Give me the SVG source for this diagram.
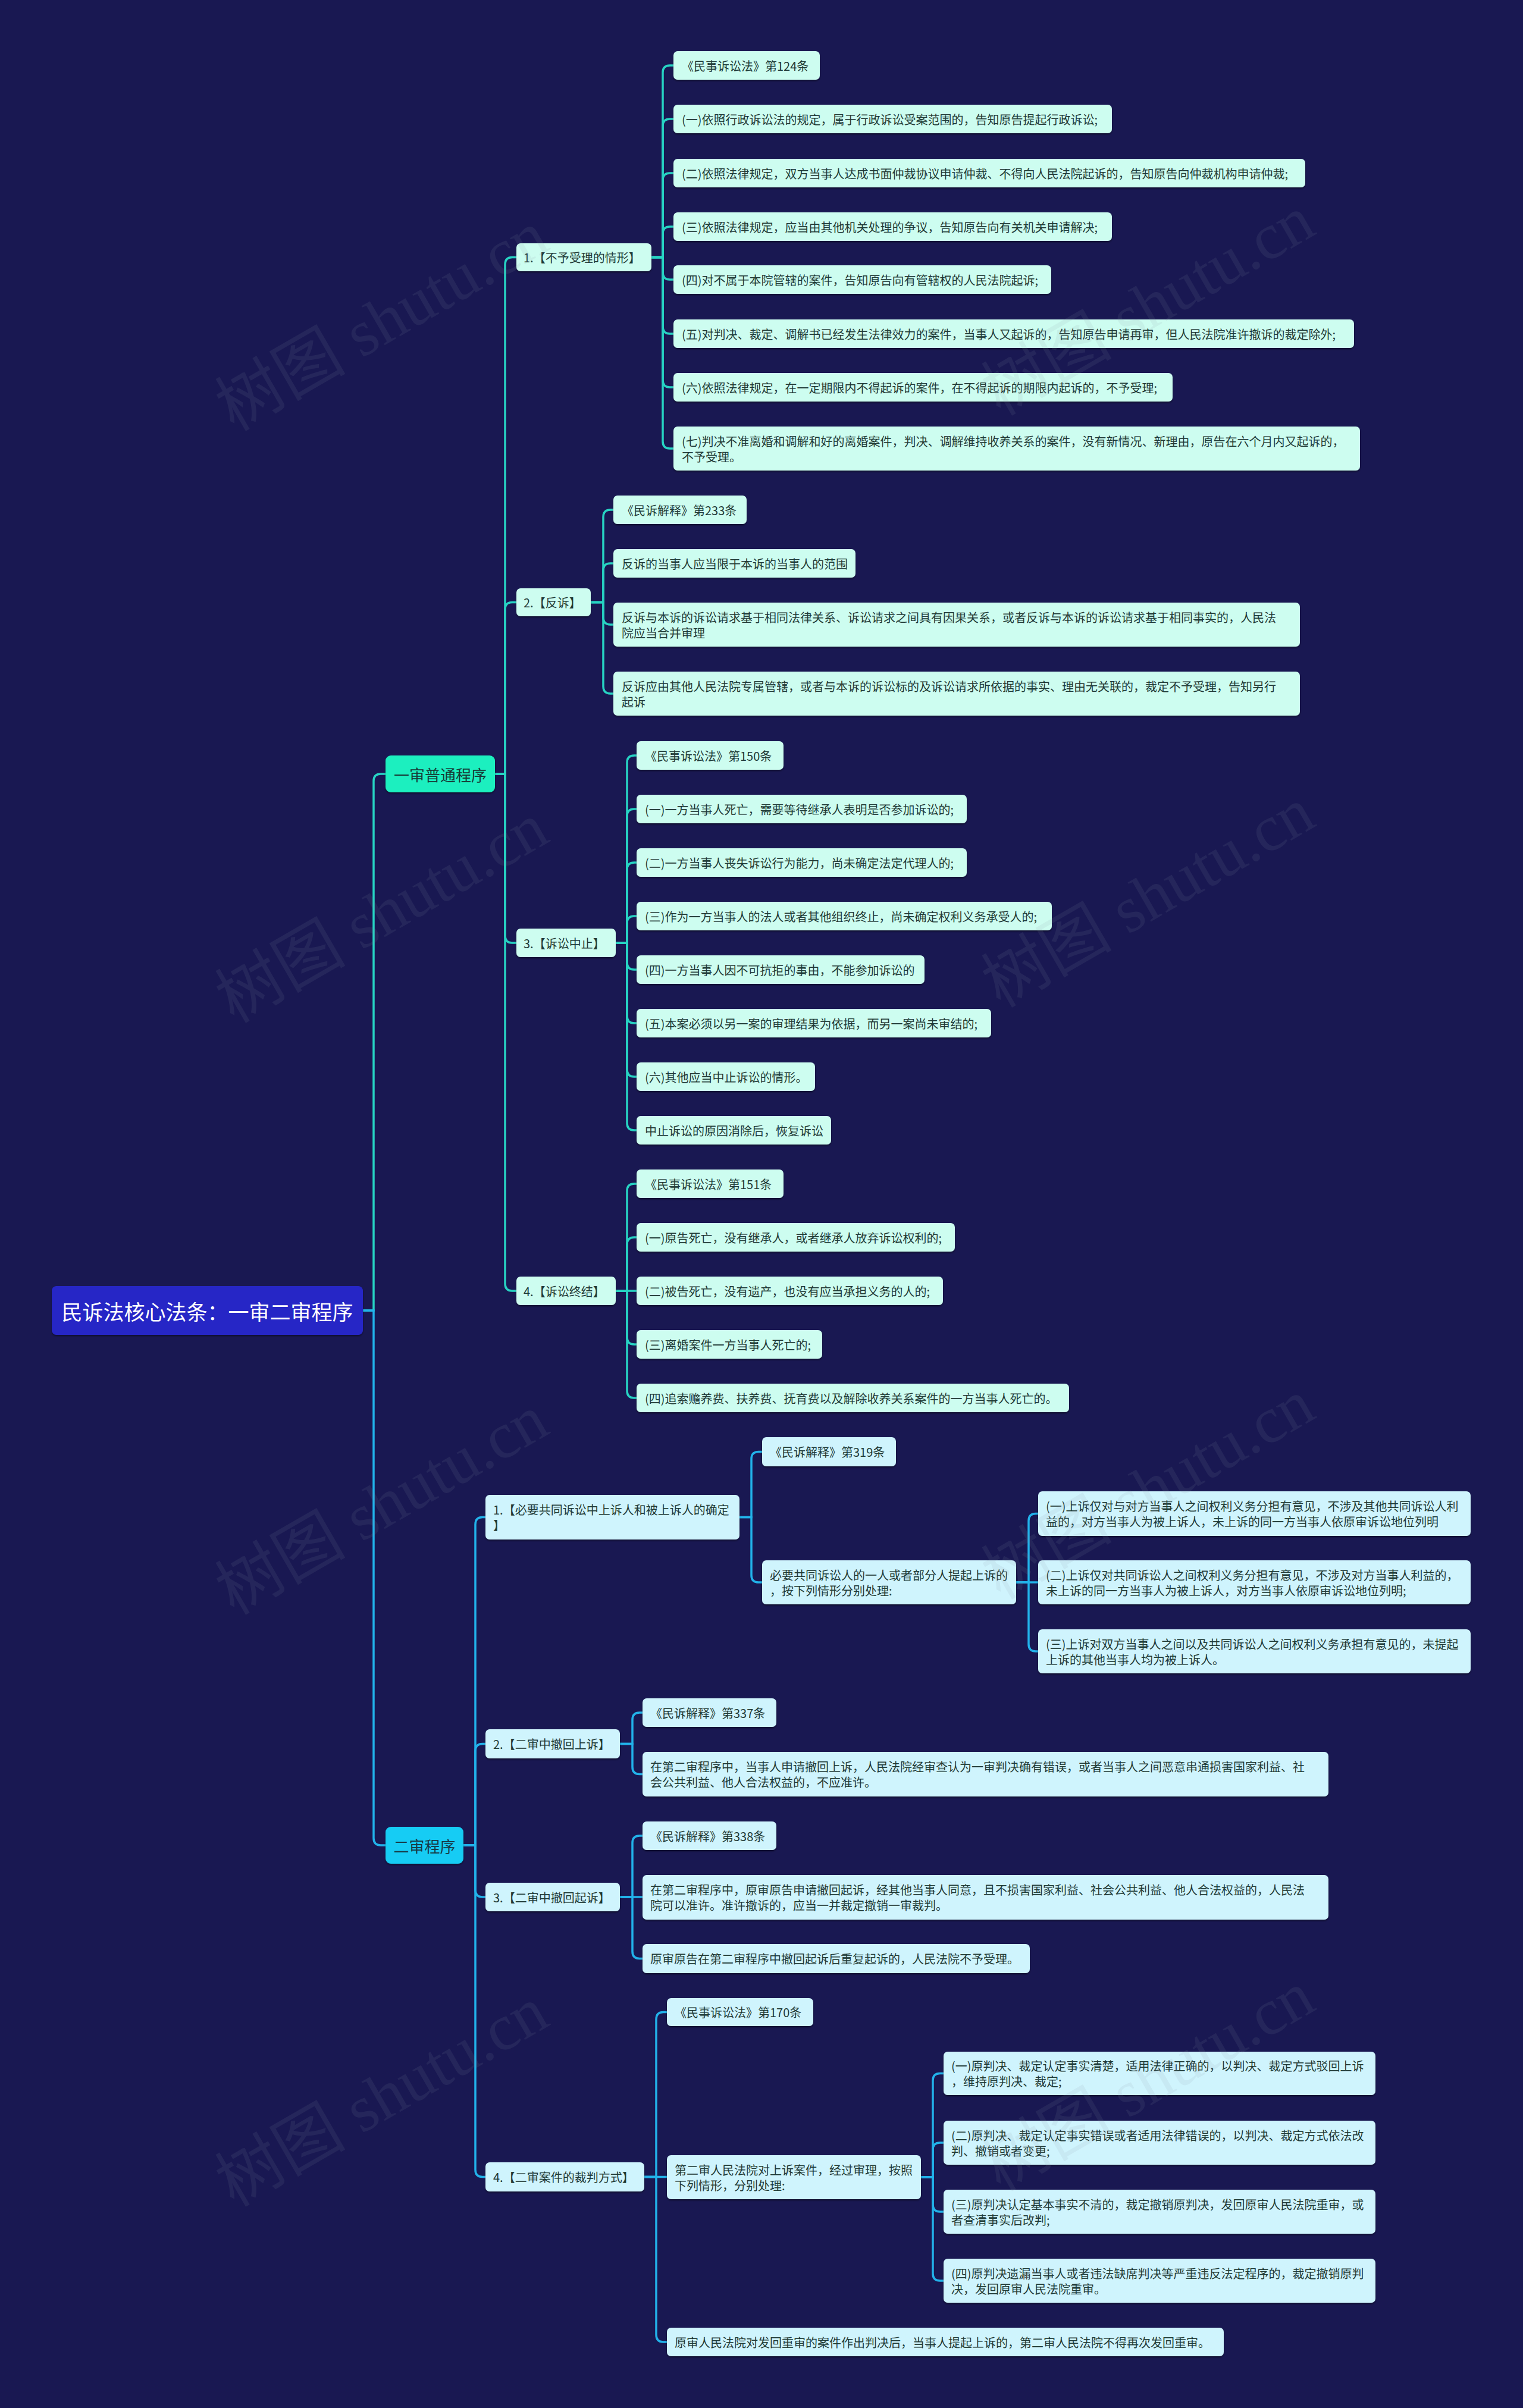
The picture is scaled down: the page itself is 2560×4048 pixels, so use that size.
<svg xmlns="http://www.w3.org/2000/svg" width="2560" height="4048" viewBox="0 0 2560 4048">
<defs>
<filter id="sh" x="-5%" y="-20%" width="110%" height="150%"><feDropShadow dx="0" dy="2" stdDeviation="1.5" flood-color="#000" flood-opacity="0.45"/></filter>
<style>
.l1{fill:none;stroke:#27d3c3;stroke-width:3.5}
.l2{fill:none;stroke:#22b2ea;stroke-width:3.5}
.n1{fill:#cdfdf0;filter:url(#sh)}
.n2{fill:#cff4fd;filter:url(#sh)}
.t{font-family:"Noto Sans CJK SC","Noto Sans",sans-serif;font-size:20px;fill:#1f3a36;dominant-baseline:central}
.wm{font-family:"Liberation Serif","Noto Sans CJK SC",serif;font-size:110px;fill:#8a94a6;opacity:0.11;text-anchor:middle;dominant-baseline:central}
</style>
</defs>
<rect x="0" y="0" width="2560" height="4048" fill="#191852"/>
<g id="connectors">
<path class="l1" d="M610 2203H628V1313Q628 1301 640 1301H648"/>
<path class="l2" d="M610 2203H628V3090Q628 3102 640 3102H648"/>
<path class="l1" d="M832 1301H849V444.5Q849 432.5 861 432.5H868"/>
<path class="l1" d="M832 1301H849V1024.5Q849 1012.5 861 1012.5H868"/>
<path class="l1" d="M832 1301H849V1573Q849 1585 861 1585H868"/>
<path class="l1" d="M832 1301H849V2158Q849 2170 861 2170H868"/>
<path class="l1" d="M1095 432.5H1114V122Q1114 110 1126 110H1132"/>
<path class="l1" d="M1095 432.5H1114V212Q1114 200 1126 200H1132"/>
<path class="l1" d="M1095 432.5H1114V303Q1114 291 1126 291H1132"/>
<path class="l1" d="M1095 432.5H1114V393Q1114 381 1126 381H1132"/>
<path class="l1" d="M1095 432.5H1114V458Q1114 470 1126 470H1132"/>
<path class="l1" d="M1095 432.5H1114V549Q1114 561 1126 561H1132"/>
<path class="l1" d="M1095 432.5H1114V639Q1114 651 1126 651H1132"/>
<path class="l1" d="M1095 432.5H1114V742Q1114 754 1126 754H1132"/>
<path class="l1" d="M993 1012.5H1014V869Q1014 857 1026 857H1031"/>
<path class="l1" d="M993 1012.5H1014V959Q1014 947 1026 947H1031"/>
<path class="l1" d="M993 1012.5H1014V1038Q1014 1050 1026 1050H1031"/>
<path class="l1" d="M993 1012.5H1014V1154Q1014 1166 1026 1166H1031"/>
<path class="l1" d="M1035 1585H1054V1282Q1054 1270 1066 1270H1070"/>
<path class="l1" d="M1035 1585H1054V1372Q1054 1360 1066 1360H1070"/>
<path class="l1" d="M1035 1585H1054V1462Q1054 1450 1066 1450H1070"/>
<path class="l1" d="M1035 1585H1054V1552Q1054 1540 1066 1540H1070"/>
<path class="l1" d="M1035 1585H1054V1618Q1054 1630 1066 1630H1070"/>
<path class="l1" d="M1035 1585H1054V1708Q1054 1720 1066 1720H1070"/>
<path class="l1" d="M1035 1585H1054V1798Q1054 1810 1066 1810H1070"/>
<path class="l1" d="M1035 1585H1054V1888Q1054 1900 1066 1900H1070"/>
<path class="l1" d="M1035 2170H1054V2002Q1054 1990 1066 1990H1070"/>
<path class="l1" d="M1035 2170H1054V2092Q1054 2080 1066 2080H1070"/>
<path class="l1" d="M1035 2170H1070"/>
<path class="l1" d="M1035 2170H1054V2248Q1054 2260 1066 2260H1070"/>
<path class="l1" d="M1035 2170H1054V2338Q1054 2350 1066 2350H1070"/>
<path class="l2" d="M779 3102H799V2562.5Q799 2550.5 811 2550.5H816"/>
<path class="l2" d="M779 3102H799V2943.5Q799 2931.5 811 2931.5H816"/>
<path class="l2" d="M779 3102H799V3177Q799 3189 811 3189H816"/>
<path class="l2" d="M779 3102H799V3647.5Q799 3659.5 811 3659.5H816"/>
<path class="l2" d="M1243 2550.5H1263V2452.5Q1263 2440.5 1275 2440.5H1281"/>
<path class="l2" d="M1243 2550.5H1263V2648Q1263 2660 1275 2660H1281"/>
<path class="l2" d="M1708 2660H1729V2556.5Q1729 2544.5 1741 2544.5H1745"/>
<path class="l2" d="M1708 2660H1745"/>
<path class="l2" d="M1708 2660H1729V2764Q1729 2776 1741 2776H1745"/>
<path class="l2" d="M1042 2931.5H1063V2891Q1063 2879 1075 2879H1080"/>
<path class="l2" d="M1042 2931.5H1063V2970.5Q1063 2982.5 1075 2982.5H1080"/>
<path class="l2" d="M1042 3189H1063V3098Q1063 3086 1075 3086H1080"/>
<path class="l2" d="M1042 3189H1080"/>
<path class="l2" d="M1042 3189H1063V3280.5Q1063 3292.5 1075 3292.5H1080"/>
<path class="l2" d="M1083 3659.5H1103V3394.5Q1103 3382.5 1115 3382.5H1121"/>
<path class="l2" d="M1083 3659.5H1121"/>
<path class="l2" d="M1083 3659.5H1103V3925Q1103 3937 1115 3937H1121"/>
<path class="l2" d="M1548 3660H1568V3497.5Q1568 3485.5 1580 3485.5H1586"/>
<path class="l2" d="M1548 3660H1568V3614Q1568 3602 1580 3602H1586"/>
<path class="l2" d="M1548 3660H1568V3706Q1568 3718 1580 3718H1586"/>
<path class="l2" d="M1548 3660H1568V3822Q1568 3834 1580 3834H1586"/>
</g>
<g id="root"><rect x="87" y="2162" width="523" height="82" rx="8" fill="#2828c6" filter="url(#sh)"/><text x="348.5" y="2203" class="t" style="font-size:35px;fill:#ffffff" text-anchor="middle">民诉法核心法条：一审二审程序</text></g>
<g id="s1"><rect x="648" y="1270" width="184" height="62" rx="9" fill="#1cefbf" filter="url(#sh)"/><text x="740" y="1301" class="t" style="font-size:26px;fill:#173a36" text-anchor="middle">一审普通程序</text></g>
<g id="s2"><rect x="648" y="3071" width="131" height="62" rx="9" fill="#19ccf4" filter="url(#sh)"/><text x="713.5" y="3102" class="t" style="font-size:26px;fill:#173a46" text-anchor="middle">二审程序</text></g>
<g id="a1"><rect class="n1" x="868" y="409" width="227" height="47" rx="7"/><text class="t" x="880" y="432.5">1.【不予受理的情形】</text></g>
<g id="a2"><rect class="n1" x="868" y="989" width="125" height="47" rx="7"/><text class="t" x="880" y="1012.5">2.【反诉】</text></g>
<g id="a3"><rect class="n1" x="868" y="1561" width="167" height="48" rx="7"/><text class="t" x="880" y="1585">3.【诉讼中止】</text></g>
<g id="a4"><rect class="n1" x="868" y="2146" width="167" height="48" rx="7"/><text class="t" x="880" y="2170">4.【诉讼终结】</text></g>
<g id="a1-0"><rect class="n1" x="1132" y="86" width="246" height="48" rx="7"/><text class="t" x="1146" y="110">《民事诉讼法》第124条</text></g>
<g id="a1-1"><rect class="n1" x="1132" y="176" width="737" height="48" rx="7"/><text class="t" x="1146" y="200">(一)依照行政诉讼法的规定，属于行政诉讼受案范围的，告知原告提起行政诉讼;</text></g>
<g id="a1-2"><rect class="n1" x="1132" y="267" width="1062" height="48" rx="7"/><text class="t" x="1146" y="291">(二)依照法律规定，双方当事人达成书面仲裁协议申请仲裁、不得向人民法院起诉的，告知原告向仲裁机构申请仲裁;</text></g>
<g id="a1-3"><rect class="n1" x="1132" y="357" width="737" height="48" rx="7"/><text class="t" x="1146" y="381">(三)依照法律规定，应当由其他机关处理的争议，告知原告向有关机关申请解决;</text></g>
<g id="a1-4"><rect class="n1" x="1132" y="446" width="635" height="48" rx="7"/><text class="t" x="1146" y="470">(四)对不属于本院管辖的案件，告知原告向有管辖权的人民法院起诉;</text></g>
<g id="a1-5"><rect class="n1" x="1132" y="537" width="1144" height="48" rx="7"/><text class="t" x="1146" y="561">(五)对判决、裁定、调解书已经发生法律效力的案件，当事人又起诉的，告知原告申请再审，但人民法院准许撤诉的裁定除外;</text></g>
<g id="a1-6"><rect class="n1" x="1132" y="627" width="839" height="48" rx="7"/><text class="t" x="1146" y="651">(六)依照法律规定，在一定期限内不得起诉的案件，在不得起诉的期限内起诉的，不予受理;</text></g>
<g id="a1-7"><rect class="n1" x="1132" y="717" width="1154" height="74" rx="7"/><text class="t" x="1146" y="741">(七)判决不准离婚和调解和好的离婚案件，判决、调解维持收养关系的案件，没有新情况、新理由，原告在六个月内又起诉的，</text><text class="t" x="1146" y="767">不予受理。</text></g>
<g id="a2-0"><rect class="n1" x="1031" y="833" width="224" height="48" rx="7"/><text class="t" x="1045" y="857">《民诉解释》第233条</text></g>
<g id="a2-1"><rect class="n1" x="1031" y="923" width="407" height="48" rx="7"/><text class="t" x="1045" y="947">反诉的当事人应当限于本诉的当事人的范围</text></g>
<g id="a2-2"><rect class="n1" x="1031" y="1013" width="1154" height="74" rx="7"/><text class="t" x="1045" y="1037">反诉与本诉的诉讼请求基于相同法律关系、诉讼请求之间具有因果关系，或者反诉与本诉的诉讼请求基于相同事实的，人民法</text><text class="t" x="1045" y="1063">院应当合并审理</text></g>
<g id="a2-3"><rect class="n1" x="1031" y="1129" width="1154" height="74" rx="7"/><text class="t" x="1045" y="1153">反诉应由其他人民法院专属管辖，或者与本诉的诉讼标的及诉讼请求所依据的事实、理由无关联的，裁定不予受理，告知另行</text><text class="t" x="1045" y="1179">起诉</text></g>
<g id="a3-0"><rect class="n1" x="1070" y="1246" width="247" height="48" rx="7"/><text class="t" x="1084" y="1270">《民事诉讼法》第150条</text></g>
<g id="a3-1"><rect class="n1" x="1070" y="1336" width="555" height="48" rx="7"/><text class="t" x="1084" y="1360">(一)一方当事人死亡，需要等待继承人表明是否参加诉讼的;</text></g>
<g id="a3-2"><rect class="n1" x="1070" y="1426" width="555" height="48" rx="7"/><text class="t" x="1084" y="1450">(二)一方当事人丧失诉讼行为能力，尚未确定法定代理人的;</text></g>
<g id="a3-3"><rect class="n1" x="1070" y="1516" width="698" height="48" rx="7"/><text class="t" x="1084" y="1540">(三)作为一方当事人的法人或者其他组织终止，尚未确定权利义务承受人的;</text></g>
<g id="a3-4"><rect class="n1" x="1070" y="1606" width="484" height="48" rx="7"/><text class="t" x="1084" y="1630">(四)一方当事人因不可抗拒的事由，不能参加诉讼的</text></g>
<g id="a3-5"><rect class="n1" x="1070" y="1696" width="596" height="48" rx="7"/><text class="t" x="1084" y="1720">(五)本案必须以另一案的审理结果为依据，而另一案尚未审结的;</text></g>
<g id="a3-6"><rect class="n1" x="1070" y="1786" width="300" height="48" rx="7"/><text class="t" x="1084" y="1810">(六)其他应当中止诉讼的情形。</text></g>
<g id="a3-7"><rect class="n1" x="1070" y="1876" width="327" height="48" rx="7"/><text class="t" x="1084" y="1900">中止诉讼的原因消除后，恢复诉讼</text></g>
<g id="a4-0"><rect class="n1" x="1070" y="1966" width="247" height="48" rx="7"/><text class="t" x="1084" y="1990">《民事诉讼法》第151条</text></g>
<g id="a4-1"><rect class="n1" x="1070" y="2056" width="535" height="48" rx="7"/><text class="t" x="1084" y="2080">(一)原告死亡，没有继承人，或者继承人放弃诉讼权利的;</text></g>
<g id="a4-2"><rect class="n1" x="1070" y="2146" width="515" height="48" rx="7"/><text class="t" x="1084" y="2170">(二)被告死亡，没有遗产，也没有应当承担义务的人的;</text></g>
<g id="a4-3"><rect class="n1" x="1070" y="2236" width="312" height="48" rx="7"/><text class="t" x="1084" y="2260">(三)离婚案件一方当事人死亡的;</text></g>
<g id="a4-4"><rect class="n1" x="1070" y="2326" width="727" height="48" rx="7"/><text class="t" x="1084" y="2350">(四)追索赡养费、扶养费、抚育费以及解除收养关系案件的一方当事人死亡的。</text></g>
<g id="b1"><rect class="n2" x="816" y="2513" width="427" height="75" rx="7"/><text class="t" x="829" y="2537.5">1.【必要共同诉讼中上诉人和被上诉人的确定</text><text class="t" x="829" y="2563.5">】</text></g>
<g id="b2"><rect class="n2" x="816" y="2907" width="226" height="49" rx="7"/><text class="t" x="829" y="2931.5">2.【二审中撤回上诉】</text></g>
<g id="b3"><rect class="n2" x="816" y="3165" width="226" height="48" rx="7"/><text class="t" x="829" y="3189">3.【二审中撤回起诉】</text></g>
<g id="b4"><rect class="n2" x="816" y="3635" width="267" height="49" rx="7"/><text class="t" x="829" y="3659.5">4.【二审案件的裁判方式】</text></g>
<g id="b1-0"><rect class="n2" x="1281" y="2416" width="225" height="49" rx="7"/><text class="t" x="1294" y="2440.5">《民诉解释》第319条</text></g>
<g id="b1-1"><rect class="n2" x="1281" y="2623" width="427" height="74" rx="7"/><text class="t" x="1294" y="2647">必要共同诉讼人的一人或者部分人提起上诉的</text><text class="t" x="1294" y="2673">，按下列情形分别处理:</text></g>
<g id="b1-1-0"><rect class="n2" x="1745" y="2507" width="727" height="75" rx="7"/><text class="t" x="1758" y="2531.5">(一)上诉仅对与对方当事人之间权利义务分担有意见，不涉及其他共同诉讼人利</text><text class="t" x="1758" y="2557.5">益的，对方当事人为被上诉人，未上诉的同一方当事人依原审诉讼地位列明</text></g>
<g id="b1-1-1"><rect class="n2" x="1745" y="2623" width="727" height="74" rx="7"/><text class="t" x="1758" y="2647">(二)上诉仅对共同诉讼人之间权利义务分担有意见，不涉及对方当事人利益的，</text><text class="t" x="1758" y="2673">未上诉的同一方当事人为被上诉人，对方当事人依原审诉讼地位列明;</text></g>
<g id="b1-1-2"><rect class="n2" x="1745" y="2739" width="727" height="74" rx="7"/><text class="t" x="1758" y="2763">(三)上诉对双方当事人之间以及共同诉讼人之间权利义务承担有意见的，未提起</text><text class="t" x="1758" y="2789">上诉的其他当事人均为被上诉人。</text></g>
<g id="b2-0"><rect class="n2" x="1080" y="2855" width="225" height="48" rx="7"/><text class="t" x="1093" y="2879">《民诉解释》第337条</text></g>
<g id="b2-1"><rect class="n2" x="1080" y="2945" width="1153" height="75" rx="7"/><text class="t" x="1093" y="2969.5">在第二审程序中，当事人申请撤回上诉，人民法院经审查认为一审判决确有错误，或者当事人之间恶意串通损害国家利益、社</text><text class="t" x="1093" y="2995.5">会公共利益、他人合法权益的，不应准许。</text></g>
<g id="b3-0"><rect class="n2" x="1080" y="3062" width="225" height="48" rx="7"/><text class="t" x="1093" y="3086">《民诉解释》第338条</text></g>
<g id="b3-1"><rect class="n2" x="1080" y="3152" width="1153" height="75" rx="7"/><text class="t" x="1093" y="3176.5">在第二审程序中，原审原告申请撤回起诉，经其他当事人同意，且不损害国家利益、社会公共利益、他人合法权益的，人民法</text><text class="t" x="1093" y="3202.5">院可以准许。准许撤诉的，应当一并裁定撤销一审裁判。</text></g>
<g id="b3-2"><rect class="n2" x="1080" y="3268" width="651" height="49" rx="7"/><text class="t" x="1093" y="3292.5">原审原告在第二审程序中撤回起诉后重复起诉的，人民法院不予受理。</text></g>
<g id="b4-0"><rect class="n2" x="1121" y="3359" width="246" height="47" rx="7"/><text class="t" x="1134" y="3382.5">《民事诉讼法》第170条</text></g>
<g id="b4-1"><rect class="n2" x="1121" y="3623" width="427" height="74" rx="7"/><text class="t" x="1134" y="3647">第二审人民法院对上诉案件，经过审理，按照</text><text class="t" x="1134" y="3673">下列情形，分别处理:</text></g>
<g id="b4-2"><rect class="n2" x="1121" y="3913" width="936" height="48" rx="7"/><text class="t" x="1134" y="3937">原审人民法院对发回重审的案件作出判决后，当事人提起上诉的，第二审人民法院不得再次发回重审。</text></g>
<g id="b4-1-0"><rect class="n2" x="1586" y="3449" width="726" height="73" rx="7"/><text class="t" x="1599" y="3472.5">(一)原判决、裁定认定事实清楚，适用法律正确的，以判决、裁定方式驳回上诉</text><text class="t" x="1599" y="3498.5">，维持原判决、裁定;</text></g>
<g id="b4-1-1"><rect class="n2" x="1586" y="3565" width="726" height="74" rx="7"/><text class="t" x="1599" y="3589">(二)原判决、裁定认定事实错误或者适用法律错误的，以判决、裁定方式依法改</text><text class="t" x="1599" y="3615">判、撤销或者变更;</text></g>
<g id="b4-1-2"><rect class="n2" x="1586" y="3681" width="726" height="74" rx="7"/><text class="t" x="1599" y="3705">(三)原判决认定基本事实不清的，裁定撤销原判决，发回原审人民法院重审，或</text><text class="t" x="1599" y="3731">者查清事实后改判;</text></g>
<g id="b4-1-3"><rect class="n2" x="1586" y="3797" width="726" height="74" rx="7"/><text class="t" x="1599" y="3821">(四)原判决遗漏当事人或者违法缺席判决等严重违反法定程序的，裁定撤销原判</text><text class="t" x="1599" y="3847">决，发回原审人民法院重审。</text></g>
<g id="watermarks">
<text class="wm" transform="translate(642 540) rotate(-30)">树图 shutu.cn</text>
<text class="wm" transform="translate(1930 514) rotate(-30)">树图 shutu.cn</text>
<text class="wm" transform="translate(642 1535) rotate(-30)">树图 shutu.cn</text>
<text class="wm" transform="translate(1930 1509) rotate(-30)">树图 shutu.cn</text>
<text class="wm" transform="translate(642 2530) rotate(-30)">树图 shutu.cn</text>
<text class="wm" transform="translate(1930 2504) rotate(-30)">树图 shutu.cn</text>
<text class="wm" transform="translate(642 3525) rotate(-30)">树图 shutu.cn</text>
<text class="wm" transform="translate(1930 3499) rotate(-30)">树图 shutu.cn</text>
</g>
</svg>
